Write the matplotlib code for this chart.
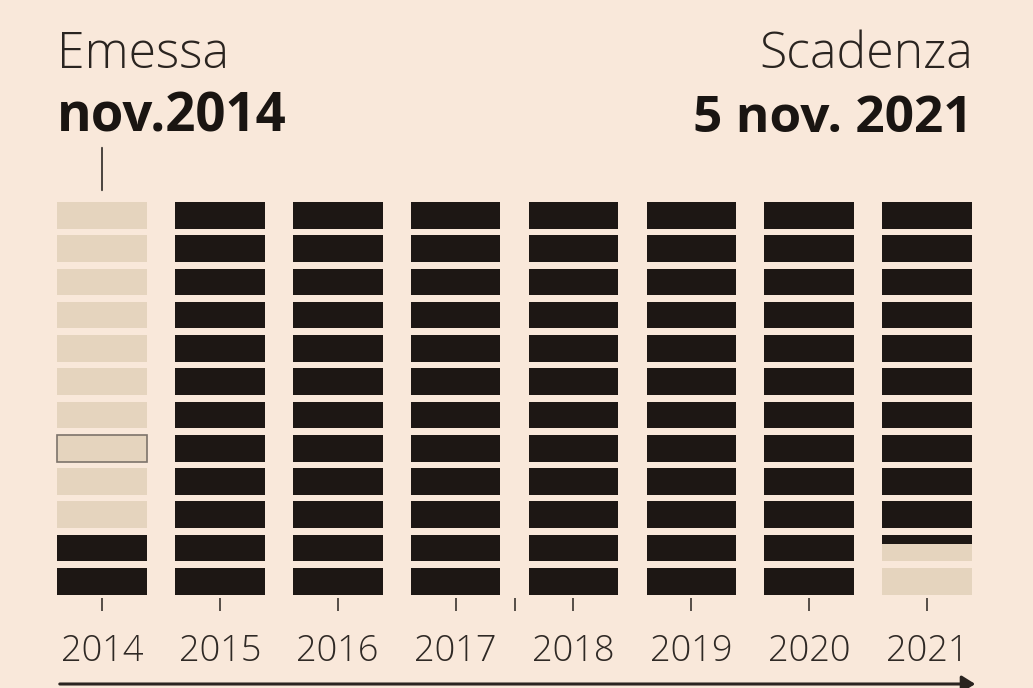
import matplotlib
matplotlib.use("Agg")
import matplotlib.pyplot as plt

# ---------------- DATA ----------------
YEARS = [2014, 2015, 2016, 2017, 2018, 2019, 2020, 2021]
N_MONTHS = 12
FIRST_MONTH = [11, 1, 1, 1, 1, 1, 1, 1]          # first month the bond is alive
LAST_FULL_MONTH = [12, 12, 12, 12, 12, 12, 12, 10]
PARTIAL = {2021: (11, 0.35)}                     # nov 2021, expires on the 5th
OUTLINED = (2014, 8)
EXTRA_TICK = 3.5
# ---------------------------------------

BG = "#F9E8DA"
DARK = "#1D1714"
LIGHT = "#E5D4BE"
INK = "#2A2420"

W, H = 1033, 688
CELL_W = 0.76
CELL_H = 0.8

fig = plt.figure(figsize=(W / 100, H / 100), dpi=100, facecolor=BG)

# axes box in pixels: columns 117.86 px apart, first centred at x=102
col_px = 117.86
left_px = 102 - 0.5 * col_px
top_px, bottom_px = 202, 598
ax = fig.add_axes([left_px / W, (H - bottom_px) / H,
                   len(YEARS) * col_px / W, (bottom_px - top_px) / H])
ax.set_facecolor(BG)
ax.set_xlim(-0.5, len(YEARS) - 0.5)
ax.set_ylim(11.9, 0)

for i, year in enumerate(YEARS):
    for m in range(1, N_MONTHS + 1):
        y0 = m - 1
        if year in PARTIAL and PARTIAL[year][0] == m:
            frac = PARTIAL[year][1]
            ax.bar(i, CELL_H * frac, bottom=y0, width=CELL_W, color=DARK, align="center")
            ax.bar(i, CELL_H * (1 - frac), bottom=y0 + CELL_H * frac, width=CELL_W,
                   color=LIGHT, align="center")
            continue
        alive = FIRST_MONTH[i] <= m <= LAST_FULL_MONTH[i]
        edge = "none"
        if (year, m) == OUTLINED:
            edge = "#7d736b"
        ax.bar(i, CELL_H, bottom=y0, width=CELL_W, color=DARK if alive else LIGHT,
               edgecolor=edge, linewidth=1.2, align="center")

for s in ax.spines.values():
    s.set_visible(False)
ax.set_yticks([])
ax.set_xticks(range(len(YEARS)))
ax.set_xticklabels([str(y) for y in YEARS], fontsize=26, color="#2f2925",
                   family=["Open Sans", "DejaVu Sans"], fontweight="light")
ax.set_xticks([EXTRA_TICK], minor=True)
ax.tick_params(axis="x", which="both", length=9, width=1.2, color="#3a332e", pad=16)

# header texts
fig.text(57 / W, 1 - 68 / H, "Emessa", fontsize=36, color=INK, va="baseline",
         ha="left", family=["Open Sans", "DejaVu Sans"], fontweight="light")
fig.text(57 / W, 1 - 132 / H, "nov.2014", fontsize=38, color="#1a1512", va="baseline",
         ha="left", family=["Open Sans", "DejaVu Sans"], fontweight="bold")
fig.text(973 / W, 1 - 68 / H, "Scadenza", fontsize=36, color=INK, va="baseline",
         ha="right", family=["Open Sans", "DejaVu Sans"], fontweight="light")
fig.text(973 / W, 1 - 132 / H, "5 nov. 2021", fontsize=37, color="#1a1512", va="baseline",
         ha="right", family=["Open Sans", "DejaVu Sans"], fontweight="bold")

# marker under the issue date
ax.annotate("", xy=(0, 1 + 9 / 396), xycoords=("data", "axes fraction"),
            xytext=(0, 1 + 57 / 396), textcoords=("data", "axes fraction"),
            arrowprops=dict(arrowstyle="-", color="#4a433e", lw=1.4))

# time arrow
fig.add_artist(matplotlib.patches.FancyArrowPatch(
    (57 / W, 1 - 684 / H), (978 / W, 1 - 684 / H), transform=fig.transFigure,
    arrowstyle="-|>,head_length=8,head_width=5", color="#2a2420", lw=2.2,
    mutation_scale=1))

fig.savefig("out.png", dpi=100, facecolor=BG)
